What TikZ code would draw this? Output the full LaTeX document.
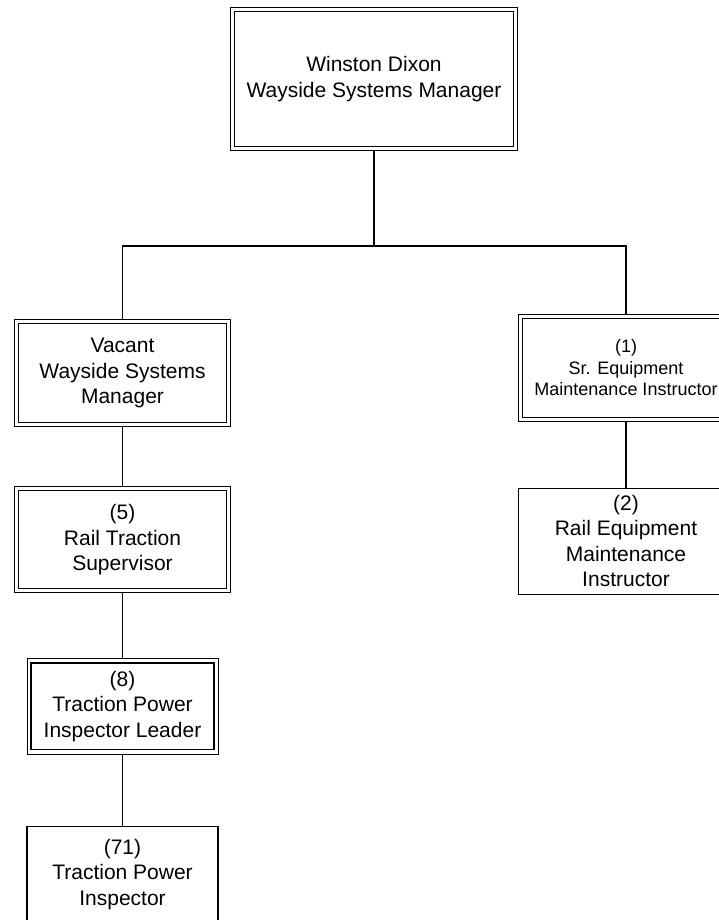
\documentclass[tikz,border=0pt]{standalone}
\usepackage{fontspec}
\setmainfont{Liberation Sans}
\usepackage{tikz}
\usetikzlibrary{positioning}

\begin{document}
\begin{tikzpicture}[
  x=1pt, y=-1pt,
  node distance=60pt,
  dblbox/.style={rectangle, draw=black, line width=1.3pt, outer sep=4.2pt, fill=white, inner sep=0pt, align=center, font=\fontsize{21}{25.5}\selectfont},
  plainbox/.style={rectangle, draw=black, line width=1.2pt, fill=white, inner sep=0pt, align=center, font=\fontsize{21}{25.5}\selectfont},
  frame/.style={draw=black, line width=0.8pt},
  link/.style={draw=black, line width=1.2pt}
]
\useasboundingbox (0,0) rectangle (719,920);

% Manager Node
\node[dblbox, minimum width=278.8pt, minimum height=134.8pt] (manager) at (374,79) {Winston Dixon \\ Wayside Systems Manager};

% Second Row Nodes
\node[dblbox, minimum width=207.8pt, minimum height=98.8pt] (vacant) at (122.5,373) {Vacant \\ Wayside Systems \\ Manager};
\node[dblbox, minimum width=206.8pt, minimum height=98.8pt, font=\fontsize{18}{21.5}\selectfont] (srinstr) at (626,368) {(1) \\ Sr. Equipment \\ Maintenance Instructor};

% Left Column Nodes
\node[dblbox, minimum width=207.8pt, minimum height=97.8pt, below=60pt of vacant] (railsup) {(5) \\ Rail Traction \\ Supervisor};
\node[dblbox, minimum width=182.8pt, minimum height=86.8pt, below=66pt of railsup] (tpleader) {(8) \\ Traction Power \\ Inspector Leader};
\node[plainbox, minimum width=191pt, minimum height=95pt, below=72pt of tpleader] (tpinsp) {(71) \\ Traction Power \\ Inspector};

% Right Column Nodes
\node[plainbox, minimum width=215pt, minimum height=106pt, below=66pt of srinstr] (railinstr) {(2) \\ Rail Equipment \\ Maintenance \\ Instructor};

% Outer Frames of Double Boxes
\foreach \n in {manager, vacant, srinstr, railsup, tpleader}
  \draw[frame] (\n.north west) rectangle (\n.south east);

% Branch Lines
\coordinate (bus) at (374,246);
\draw[link] (manager.south) -- (bus);
\draw[link] (vacant.north) |- (bus) -| (srinstr.north);

% Column Lines
\draw[link] (vacant) -- (railsup);
\draw[link] (railsup) -- (tpleader);
\draw[link] (tpleader) -- (tpinsp);
\draw[link] (srinstr) -- (railinstr);

\end{tikzpicture}
\end{document}
